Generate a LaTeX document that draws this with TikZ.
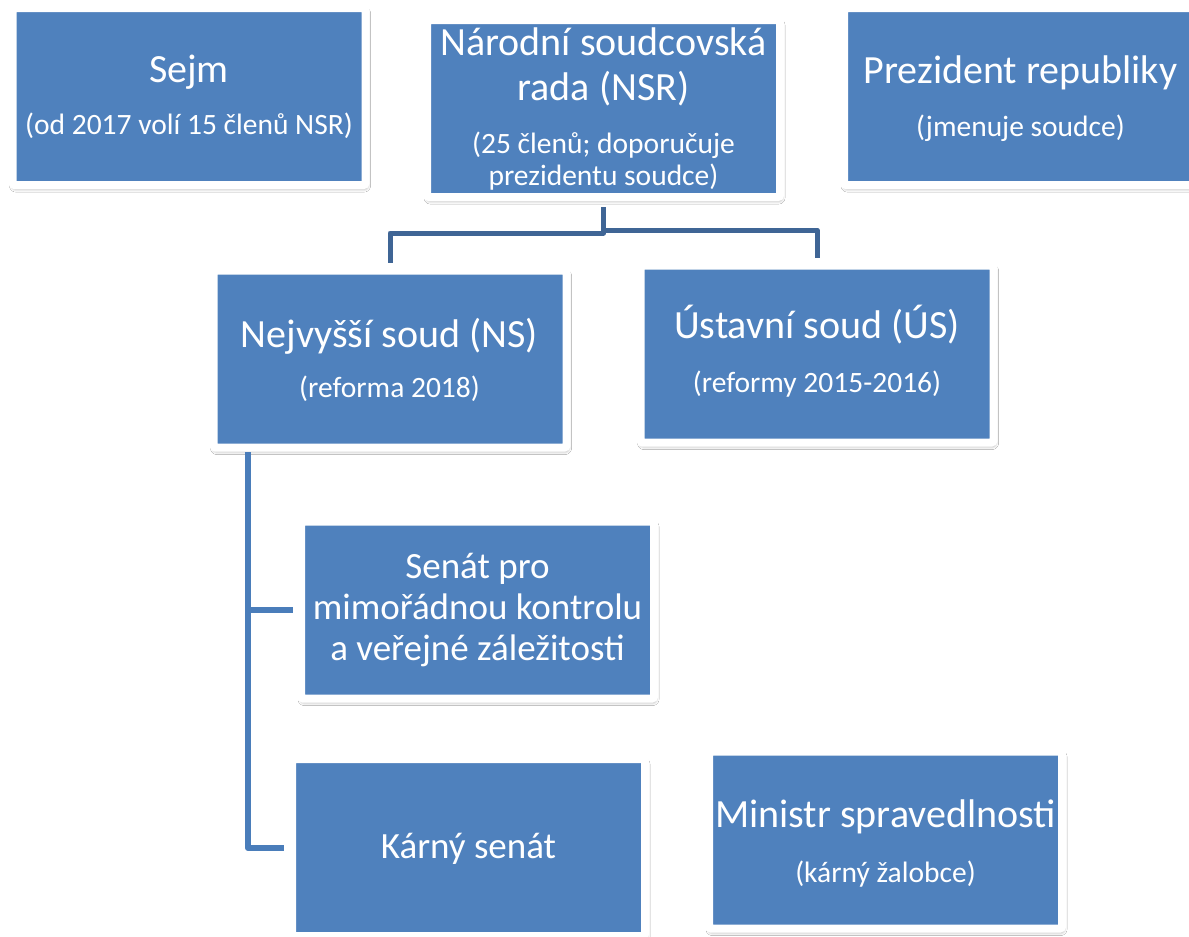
\documentclass[tikz,border=0pt]{standalone}
\usepackage{fontspec}
\setmainfont{Carlito}
\usetikzlibrary{shadows.blur,calc}
\definecolor{boxblue}{HTML}{4F81BD}
\definecolor{linedark}{HTML}{3F6595}
\definecolor{linelight}{HTML}{4A7DBA}
\tikzset{
  orgbox/.style={draw=white, line width=8pt, fill=boxblue, rounded corners=2pt,
    minimum width=353pt, minimum height=177pt, inner sep=0pt,
    blur shadow={shadow xshift=1pt, shadow yshift=-3pt, shadow blur steps=6, shadow opacity=45, shadow blur radius=4pt}},
  ttl/.style={text=white, anchor=base, font=\fontsize{40}{45}\selectfont},
  ttlb/.style={text=white, anchor=base, font=\fontsize{37}{41}\selectfont},
  sub/.style={text=white, anchor=base, font=\fontsize{29.5}{32}\selectfont},
  topline/.style={draw=linedark, line width=5pt, line join=round},
  nsline/.style={draw=linelight, line width=6pt, line join=round}
}
\begin{document}
\begin{tikzpicture}[x=1pt,y=-1pt]
\useasboundingbox (0,0) rectangle (1189,937);
\fill[white] (0,0) rectangle (1189,937);
% boxes
\node[orgbox] (sejm) at (189,96.5) {};
\node[orgbox] (nsr) at (603.5,108.5) {};
\node[orgbox] (pres) at (1020.5,96.5) {};
\node[orgbox] (ns) at (390,359) {};
\node[orgbox] (us) at (817,354) {};
\node[orgbox] (sen) at (477.5,610) {};
\node[orgbox] (kar) at (468.5,847.5) {};
\node[orgbox] (min) at (885.5,840) {};
% connector junctions
\coordinate (cl) at (603.5,233);
\coordinate (cr) at (603.5,230);
\coordinate (cb) at (248,848);
\coordinate (cm) at (248,610);
\coordinate (nsb) at (248,452);
\coordinate (nsrb) at ($(nsr.south)+(0,6)$);
\coordinate (nst) at ($(ns.north)+(0,-4)$);
\coordinate (ust) at ($(us.north)+(0,-4)$);
% lines
\draw[topline] (nsrb) -- (cl) -| (nst);
\draw[topline] (cr) -| (ust);
\draw[nsline] (nsb) -- (cb) -- ($(kar.west |- cb)+(-4,0)$);
\draw[nsline] (cm) -- ($(sen.west |- cm)+(-4,0)$);
% texts
\node[ttl] (sejmt) at (189,82) {Sejm};
\node[sub] (sejms) at (189,134) {(od 2017 volí 15 členů NSR)};
\node[ttl] (nsrt1) at (603.5,55) {Národní soudcovská};
\node[ttl] (nsrt2) at (603.5,100) {rada (NSR)};
\node[sub] (nsrs1) at (603.5,153) {(25 členů; doporučuje};
\node[sub] (nsrs2) at (603.5,185) {prezidentu soudce)};
\node[ttl] (prest) at (1020.5,83) {Prezident republiky};
\node[sub] (press) at (1020.5,136) {(jmenuje soudce)};
\node[ttl] (nstx) at (389.5,347) {Nejvyšší soud (NS)};
\node[sub] (nss) at (389.5,397) {(reforma 2018)};
\node[ttl] (ustx) at (817,338) {Ústavní soud (ÚS)};
\node[sub] (uss) at (817,392) {(reformy 2015-2016)};
\node[ttlb] (sen1) at (477.5,578) {Senát pro};
\node[ttlb] (sen2) at (477.5,619) {mimořádnou kontrolu};
\node[ttlb] (sen3) at (477.5,660) {a veřejné záležitosti};
\node[ttlb] (kart) at (468.5,858) {Kárný senát};
\node[ttl] (mint) at (885.5,827) {Ministr spravedlnosti};
\node[sub] (mins) at (885.5,882) {(kárný žalobce)};
\end{tikzpicture}
\end{document}
